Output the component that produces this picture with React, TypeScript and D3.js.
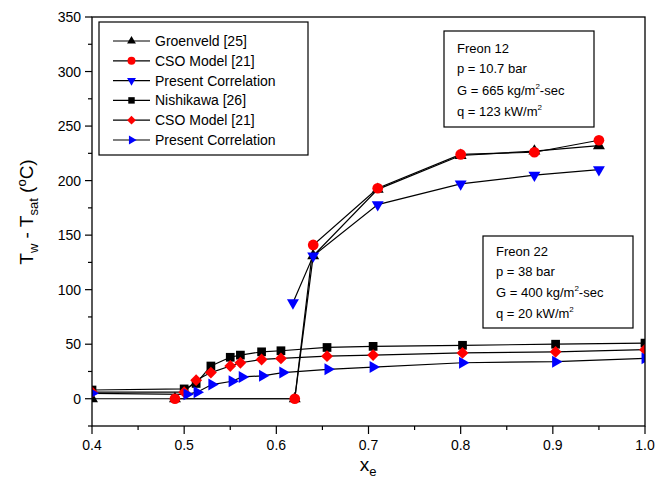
import React from "react";
import * as d3 from "d3";

const groenveldX = [0.4, 0.49, 0.62, 0.64, 0.71, 0.80, 0.88, 0.95];
const groenveldY = [0, 0, 0, 131, 192, 223, 227, 232];
const cso12X = [0.49, 0.62, 0.64, 0.71, 0.80, 0.88, 0.95];
const cso12Y = [0, 0, 141, 193, 224, 226, 237];
const present12X = [0.618, 0.64, 0.71, 0.80, 0.88, 0.95];
const present12Y = [88, 131, 178, 197, 205, 210];

const nishikawaX = [0.4, 0.5, 0.513, 0.529, 0.55, 0.561, 0.584, 0.605, 0.655, 0.705, 0.802, 0.903, 1.0];
const nishikawaY = [8, 9, 14, 30, 38, 40, 43, 44, 47, 48, 49, 50, 51];
const cso22X = [0.4, 0.5, 0.513, 0.529, 0.55, 0.561, 0.584, 0.605, 0.655, 0.705, 0.802, 0.903, 1.0];
const cso22Y = [6, 6, 17, 24, 30, 33, 36, 37, 39, 40, 42, 43, 45];
const present22X = [0.4, 0.503, 0.514, 0.53, 0.552, 0.563, 0.585, 0.607, 0.656, 0.705, 0.802, 0.903, 1.0];
const present22Y = [5, 4, 6, 13, 16, 20, 21, 24, 27, 29, 33, 34, 37];

const legendLabels = ["Groenveld [25]", "CSO Model [21]", "Present Correlation", "Nishikawa [26]", "CSO Model [21]", "Present Correlation"];
const xTicks = [0.4, 0.5, 0.6, 0.7, 0.8, 0.9, 1.0];
const yTicks = [0, 50, 100, 150, 200, 250, 300, 350];

type Mk = "triUp" | "circle" | "triDown" | "square" | "diamond" | "triRight";

const FONT = "'Liberation Sans', Arial, Helvetica, sans-serif";

function markerPath(kind: Mk, s: number): { d: string; rot: number } {
  switch (kind) {
    case "triUp": return { d: d3.symbol(d3.symbolTriangle, 62 * s)()!, rot: 0 };
    case "triDown": return { d: d3.symbol(d3.symbolTriangle, 62 * s)()!, rot: 180 };
    case "triRight": return { d: d3.symbol(d3.symbolTriangle, 62 * s)()!, rot: 90 };
    case "circle": return { d: d3.symbol(d3.symbolCircle, 90 * s)()!, rot: 0 };
    case "square": return { d: d3.symbol(d3.symbolSquare, 76 * s)()!, rot: 0 };
    case "diamond": return { d: d3.symbol(d3.symbolSquare, 70 * s)()!, rot: 45 };
  }
}

function Marker({ x, y, kind, color, s = 1 }: { x: number; y: number; kind: Mk; color: string; s?: number }) {
  const { d, rot } = markerPath(kind, s);
  return <path d={d} transform={`translate(${x},${y}) rotate(${rot})`} fill={color} />;
}

export default function App() {
  const left = 92, right = 645, top = 17, bottom = 426;
  const x = d3.scaleLinear().domain([0.4, 1.0]).range([left, right]);
  const y = d3.scaleLinear().domain([-25, 350]).range([bottom, top]);
  const line = d3.line<[number, number]>().x((d) => x(d[0])).y((d) => y(d[1]));

  const series: { xs: number[]; ys: number[]; kind: Mk; color: string }[] = [
    { xs: groenveldX, ys: groenveldY, kind: "triUp", color: "#000" },
    { xs: cso12X, ys: cso12Y, kind: "circle", color: "#ff0000" },
    { xs: present12X, ys: present12Y, kind: "triDown", color: "#0000ff" },
    { xs: nishikawaX, ys: nishikawaY, kind: "square", color: "#000" },
    { xs: cso22X, ys: cso22Y, kind: "diamond", color: "#ff0000" },
    { xs: present22X, ys: present22Y, kind: "triRight", color: "#0000ff" },
  ];

  const xMinor = d3.range(0.45, 1.0, 0.1);
  const yMinor = d3.range(-25, 350, 50);

  return (
    <svg width={670} height={488} style={{ position: "absolute", left: 0, top: 0, background: "#fff" }} fontFamily={FONT}>
      <defs>
        <clipPath id="plotClip">
          <rect x={left} y={top} width={right - left} height={bottom - top} />
        </clipPath>
      </defs>
      <rect x={0} y={0} width={670} height={488} fill="#fff" />
      <g clipPath="url(#plotClip)">
        {series.map((s, i) => (
          <path key={"l" + i} d={line(s.xs.map((v, j) => [v, s.ys[j]]))!} fill="none" stroke="#000" strokeWidth={1.2} />
        ))}
        {series.map((s, i) => (
          <g key={"m" + i}>
            {s.xs.map((v, j) => (
              <Marker key={j} x={x(v)} y={y(s.ys[j])} kind={s.kind} color={s.color} />
            ))}
          </g>
        ))}
      </g>
      <rect x={left} y={top} width={right - left} height={bottom - top} fill="none" stroke="#000" strokeWidth={1.3} />
      {xTicks.map((t) => (
        <g key={"xt" + t}>
          <line x1={x(t)} x2={x(t)} y1={bottom} y2={bottom + 8} stroke="#000" strokeWidth={1.2} />
          <text x={x(t)} y={bottom + 24} textAnchor="middle" fontSize={14}>{t.toFixed(1)}</text>
        </g>
      ))}
      {xMinor.map((t) => (
        <line key={"xm" + t} x1={x(t)} x2={x(t)} y1={bottom} y2={bottom + 4} stroke="#000" strokeWidth={1.2} />
      ))}
      {yTicks.map((t) => (
        <g key={"yt" + t}>
          <line x1={left - 7} x2={left} y1={y(t)} y2={y(t)} stroke="#000" strokeWidth={1.2} />
          <text x={left - 11} y={y(t) + 5} textAnchor="end" fontSize={14}>{t}</text>
        </g>
      ))}
      {yMinor.map((t) => (
        <line key={"ym" + t} x1={left - 4} x2={left} y1={y(t)} y2={y(t)} stroke="#000" strokeWidth={1.2} />
      ))}
      <text x={368} y={471} textAnchor="middle" fontSize={19}>
        x<tspan fontSize={13} dy={5}>e</tspan>
      </text>
      <text transform={`translate(33,${212}) rotate(-90)`} textAnchor="middle" fontSize={19}>
        T<tspan fontSize={13} dy={5}>w</tspan>
        <tspan dy={-5}> - T</tspan>
        <tspan fontSize={13} dy={5}>sat</tspan>
        <tspan dy={-5}> (</tspan>
        <tspan fontSize={13} dy={-7}>o</tspan>
        <tspan dy={7}>C)</tspan>
      </text>
      <rect x={99} y={22} width={209} height={133} fill="#fff" stroke="#000" strokeWidth={1.2} />
      {legendLabels.map((lab, i) => {
        const ly = 41 + i * 19.8;
        return (
          <g key={"lg" + i}>
            <line x1={113} x2={150} y1={ly} y2={ly} stroke="#000" strokeWidth={1.2} />
            <Marker x={131.5} y={ly} kind={series[i].kind} color={series[i].color} s={0.55} />
            <text x={155} y={ly + 5} fontSize={14}>{lab}</text>
          </g>
        );
      })}
      <rect x={444} y={31} width={150} height={96} fill="#fff" stroke="#000" strokeWidth={1.2} />
      <g fontSize={13}>
        <text x={457} y={53}>Freon 12</text>
        <text x={457} y={73}>p = 10.7 bar</text>
        <text x={457} y={95}>G = 665 kg/m<tspan fontSize={8} dy={-6}>2</tspan><tspan dy={6}>-sec</tspan></text>
        <text x={457} y={116}>q = 123 kW/m<tspan fontSize={8} dy={-6}>2</tspan></text>
      </g>
      <rect x={483} y={236} width={150} height={92} fill="#fff" stroke="#000" strokeWidth={1.2} />
      <g fontSize={13}>
        <text x={496} y={256}>Freon 22</text>
        <text x={496} y={276}>p = 38 bar</text>
        <text x={496} y={297}>G = 400 kg/m<tspan fontSize={8} dy={-6}>2</tspan><tspan dy={6}>-sec</tspan></text>
        <text x={496} y={318}>q = 20 kW/m<tspan fontSize={8} dy={-6}>2</tspan></text>
      </g>
    </svg>
  );
}
